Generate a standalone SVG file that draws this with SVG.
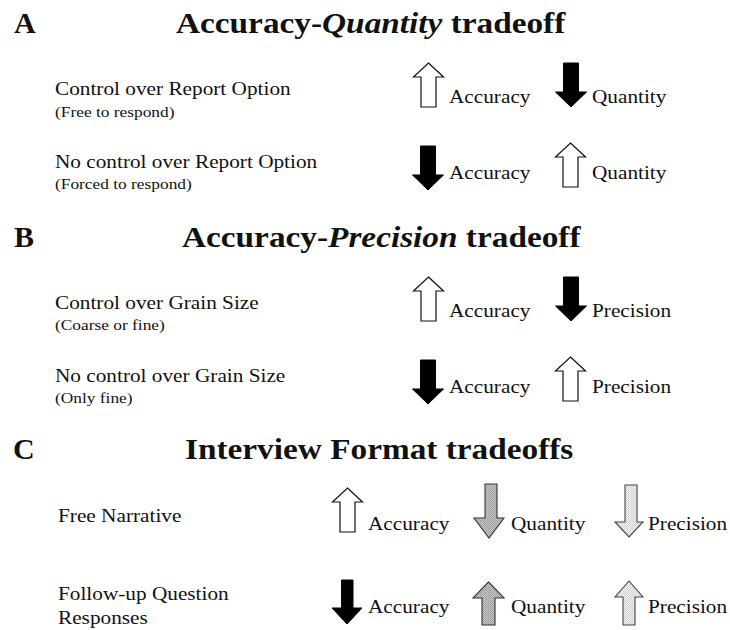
<svg xmlns="http://www.w3.org/2000/svg" width="730" height="630" viewBox="0 0 730 630">
<style>
text{font-family:"Liberation Serif","Times New Roman",serif;fill:#111}
.hd{font-size:30px;font-weight:bold}
.sec{font-size:30px;font-weight:bold}
.lbl{font-size:19px}
.sub{font-size:15.5px}
.al{font-size:19px}
.white{fill:#fff;stroke:#111;stroke-width:1.2}
.black{fill:#000;stroke:#000;stroke-width:1}
.med{fill:url(#dotMed);stroke:#333;stroke-width:1.1}
.light{fill:url(#dotLight);stroke:#444;stroke-width:1.1}
</style>
<defs>
<pattern id="dotMed" width="2" height="2" patternUnits="userSpaceOnUse"><rect width="2" height="2" fill="#cacaca"/><rect width="1" height="1" fill="#959595"/><rect x="1" y="1" width="1" height="1" fill="#a0a0a0"/></pattern>
<pattern id="dotLight" width="2" height="2" patternUnits="userSpaceOnUse"><rect width="2" height="2" fill="#f2f2f2"/><rect width="1" height="1" fill="#cdcdcd"/><rect x="1" y="1" width="1" height="1" fill="#d6d6d6"/></pattern>
<path id="up" d="M0,0 L15,14 L7.5,14 L7.5,44 L-7.5,44 L-7.5,14 L-15,14 Z"/>
<path id="down" d="M-7.5,0 L7.5,0 L7.5,29 L15.5,29 L0,44 L-15.5,29 L-7.5,29 Z"/>
</defs>

<g id="sectionA">
<text class="sec" x="14" y="33">A</text>
<text class="hd" transform="translate(176,33) scale(1.11,1)">Accuracy-<tspan font-style="italic">Quantity</tspan> tradeoff</text>
<g id="A-row1">
<text class="lbl" transform="translate(55,95) scale(1.12,1)">Control over Report Option</text>
<text class="sub" transform="translate(55,117) scale(1.12,1)">(Free to respond)</text>
<use href="#up" class="white" transform="translate(428.5,63)"/>
<text class="al" transform="translate(449,103) scale(1.12,1)">Accuracy</text>
<use href="#down" class="black" transform="translate(571,63)"/>
<text class="al" transform="translate(592,103) scale(1.12,1)">Quantity</text>
</g>
<g id="A-row2">
<text class="lbl" transform="translate(55,168) scale(1.12,1)">No control over Report Option</text>
<text class="sub" transform="translate(55,189) scale(1.12,1)">(Forced to respond)</text>
<use href="#down" class="black" transform="translate(428,146)"/>
<text class="al" transform="translate(449,179) scale(1.12,1)">Accuracy</text>
<use href="#up" class="white" transform="translate(570.5,143)"/>
<text class="al" transform="translate(592,179) scale(1.12,1)">Quantity</text>
</g>
</g>

<g id="sectionB">
<text class="sec" x="14" y="247">B</text>
<text class="hd" transform="translate(182,247) scale(1.11,1)">Accuracy-<tspan font-style="italic">Precision</tspan> tradeoff</text>
<g id="B-row1">
<text class="lbl" transform="translate(55,309) scale(1.12,1)">Control over Grain Size</text>
<text class="sub" transform="translate(55,330) scale(1.12,1)">(Coarse or fine)</text>
<use href="#up" class="white" transform="translate(428.5,277)"/>
<text class="al" transform="translate(449,317) scale(1.12,1)">Accuracy</text>
<use href="#down" class="black" transform="translate(571,277)"/>
<text class="al" transform="translate(592,317) scale(1.12,1)">Precision</text>
</g>
<g id="B-row2">
<text class="lbl" transform="translate(55,382) scale(1.12,1)">No control over Grain Size</text>
<text class="sub" transform="translate(55,403) scale(1.12,1)">(Only fine)</text>
<use href="#down" class="black" transform="translate(428,360)"/>
<text class="al" transform="translate(449,393) scale(1.12,1)">Accuracy</text>
<use href="#up" class="white" transform="translate(570.5,357)"/>
<text class="al" transform="translate(592,393) scale(1.12,1)">Precision</text>
</g>
</g>

<g id="sectionC">
<text class="sec" x="13" y="459">C</text>
<text class="hd" transform="translate(185,459) scale(1.11,1)">Interview Format tradeoffs</text>
<g id="C-row1">
<text class="lbl" transform="translate(58,522) scale(1.12,1)">Free Narrative</text>
<use href="#up" class="white" transform="translate(347.5,488)"/>
<text class="al" transform="translate(368,530) scale(1.12,1)">Accuracy</text>
<path class="med" d="M485,484 L497,484 L497,518 L504,518 L489,538 L474,518 L485,518 Z"/>
<text class="al" transform="translate(511,530) scale(1.12,1)">Quantity</text>
<path class="light" d="M625,485 L637,485 L637,522 L643,522 L629,537 L615,522 L625,522 Z"/>
<text class="al" transform="translate(648,530) scale(1.12,1)">Precision</text>
</g>
<g id="C-row2">
<text class="lbl" transform="translate(58,600) scale(1.12,1)">Follow-up Question</text>
<text class="lbl" transform="translate(58,624) scale(1.12,1)">Responses</text>
<path class="black" d="M341.5,580 L353,580 L353,608 L362,608 L347,624 L332,608 L341.5,608 Z"/>
<text class="al" transform="translate(368,613) scale(1.12,1)">Accuracy</text>
<path class="med" d="M488.5,582 L504,598 L495,598 L495,625 L482,625 L482,598 L473,598 Z"/>
<text class="al" transform="translate(511,613) scale(1.12,1)">Quantity</text>
<path class="light" d="M629,581 L643,597 L635,597 L635,625 L623,625 L623,597 L615,597 Z"/>
<text class="al" transform="translate(648,613) scale(1.12,1)">Precision</text>
</g>
</g>
</svg>
